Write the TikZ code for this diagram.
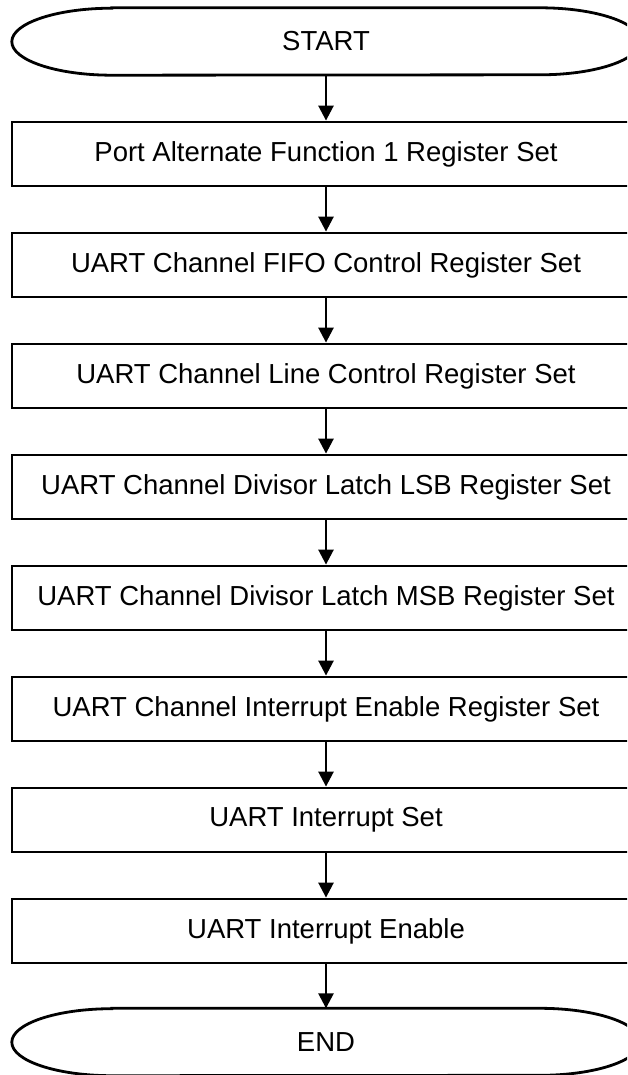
\documentclass[tikz,border=0pt]{standalone}
\usepackage{fontspec}
\setmainfont{Liberation Sans}
\usetikzlibrary{arrows.meta}
\begin{document}
\begin{tikzpicture}[x=1pt,y=-1pt,
  line/.style={line width=2.8pt},
  stepbox/.style={draw,line width=2.8pt,minimum width=628pt,minimum height=64pt,inner sep=0pt,font=\fontsize{27.5}{32}\selectfont},
  term/.style={minimum width=628pt,minimum height=67pt,inner sep=0pt,font=\fontsize{27.5}{32}\selectfont},
  flow/.style={line width=2.6pt,-{Triangle[width=15pt,length=15pt]}}]
\useasboundingbox (0,0) rectangle (627,1075);
\clip (0,0) rectangle (627,1075);
\node[term] (start) at (326,41.5) {START};
\node[stepbox] (b1) at (326,154) {Port Alternate Function 1 Register Set};
\node[stepbox] (b2) at (326,265) {UART Channel FIFO Control Register Set};
\node[stepbox] (b3) at (326,376) {UART Channel Line Control Register Set};
\node[stepbox] (b4) at (326,487) {UART Channel Divisor Latch LSB Register Set};
\node[stepbox] (b5) at (326,598) {UART Channel Divisor Latch MSB Register Set};
\node[stepbox] (b6) at (326,709) {UART Channel Interrupt Enable Register Set};
\node[stepbox] (b7) at (326,820) {UART Interrupt Set};
\node[stepbox] (b8) at (326,931) {UART Interrupt Enable};
\node[term] (end) at (326,1042) {END};
\foreach \n in {start,end}{
  \draw[line] ([xshift=100pt]\n.north west) -- ([xshift=-100pt]\n.north east)
    arc[start angle=90,end angle=-90,x radius=100pt,y radius=33.5pt]
    -- ([xshift=100pt]\n.south west)
    arc[start angle=270,end angle=90,x radius=100pt,y radius=33.5pt] -- cycle;
}
\draw[flow] (start.south) -- (b1.north);
\draw[flow] (b1) -- (b2);
\draw[flow] (b2) -- (b3);
\draw[flow] (b3) -- (b4);
\draw[flow] (b4) -- (b5);
\draw[flow] (b5) -- (b6);
\draw[flow] (b6) -- (b7);
\draw[flow] (b7) -- (b8);
\draw[flow] (b8.south) -- (end.north);
\end{tikzpicture}
\end{document}
